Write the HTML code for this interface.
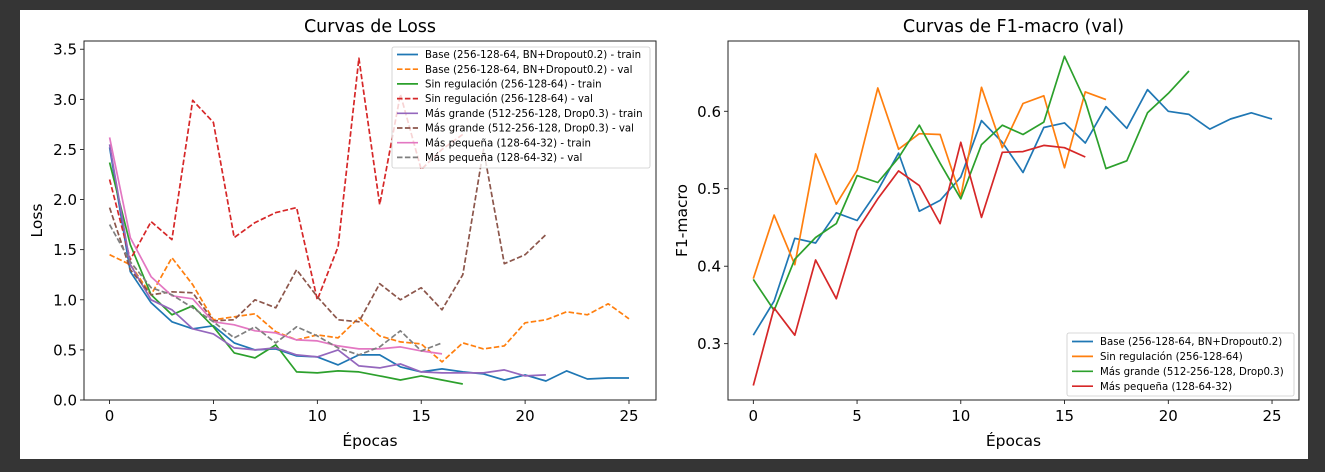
<!DOCTYPE html>
<html><head><meta charset="utf-8"><style>
html,body{margin:0;padding:0;background:#353535;width:1325px;height:472px;overflow:hidden}
svg{display:block;font-family:"DejaVu Sans","Liberation Sans",sans-serif}
</style></head><body>
<svg id="fig" width="1325" height="472" xmlns="http://www.w3.org/2000/svg">
<rect x="0" y="0" width="1325" height="472" fill="#353535"/>
<rect x="20" y="10" width="1288" height="449" fill="#fff"/>
<g id="left"></g><g id="right"></g>
</svg>
<script>
const epochs = Array.from({length:26},(_,i)=>i);
const baseTrain=[2.52,1.28,0.97,0.78,0.71,0.74,0.57,0.50,0.51,0.44,0.43,0.35,0.45,0.45,0.33,0.28,0.31,0.28,0.26,0.20,0.25,0.19,0.29,0.21,0.22,0.22];
const baseVal=[1.45,1.35,1.05,1.42,1.15,0.80,0.83,0.86,0.68,0.60,0.65,0.62,0.82,0.64,0.58,0.56,0.38,0.57,0.51,0.54,0.77,0.80,0.88,0.85,0.96,0.81];
const sinTrain=[2.37,1.55,1.05,0.85,0.94,0.73,0.47,0.42,0.55,0.28,0.27,0.29,0.28,0.24,0.20,0.24,0.20,0.16];
const sinVal=[2.20,1.40,1.78,1.60,2.99,2.77,1.62,1.77,1.87,1.92,1.00,1.53,3.41,1.95,3.05,2.30,2.50,2.65];
const grandeTrain=[2.55,1.35,1.00,0.90,0.71,0.66,0.52,0.50,0.52,0.45,0.43,0.50,0.34,0.32,0.36,0.28,0.27,0.27,0.27,0.30,0.24,0.25];
const grandeVal=[1.92,1.30,1.05,1.08,1.07,0.79,0.80,1.00,0.92,1.30,1.03,0.80,0.78,1.16,1.00,1.12,0.90,1.25,2.50,1.36,1.45,1.65];
const pequenaTrain=[2.62,1.62,1.23,1.04,1.01,0.78,0.75,0.69,0.67,0.60,0.59,0.54,0.51,0.51,0.53,0.49,0.46];
const pequenaVal=[1.75,1.38,1.12,1.05,0.92,0.78,0.62,0.73,0.57,0.73,0.64,0.52,0.45,0.53,0.69,0.49,0.57];
const f1Base=[0.311,0.355,0.436,0.430,0.469,0.459,0.498,0.546,0.471,0.485,0.515,0.588,0.560,0.521,0.579,0.585,0.559,0.606,0.578,0.628,0.600,0.596,0.577,0.590,0.598,0.590];
const f1Sin=[0.384,0.466,0.402,0.545,0.480,0.524,0.630,0.551,0.571,0.570,0.490,0.631,0.553,0.610,0.620,0.527,0.625,0.615];
const f1Grande=[0.383,0.343,0.409,0.437,0.455,0.517,0.508,0.540,0.582,0.533,0.487,0.557,0.582,0.570,0.586,0.671,0.613,0.526,0.536,0.598,0.623,0.652];
const f1Pequena=[0.246,0.346,0.311,0.408,0.358,0.446,0.487,0.523,0.504,0.455,0.560,0.463,0.547,0.548,0.556,0.553,0.541];
const xTicks=[0,5,10,15,20,25];
const lossTicks=["0.0","0.5","1.0","1.5","2.0","2.5","3.0","3.5"];
const f1Ticks=["0.3","0.4","0.5","0.6"];
const lossLabels=["Base (256-128-64, BN+Dropout0.2) - train","Base (256-128-64, BN+Dropout0.2) - val","Sin regulación (256-128-64) - train","Sin regulación (256-128-64) - val","Más grande (512-256-128, Drop0.3) - train","Más grande (512-256-128, Drop0.3) - val","Más pequeña (128-64-32) - train","Más pequeña (128-64-32) - val"];
const f1Labels=["Base (256-128-64, BN+Dropout0.2)","Sin regulación (256-128-64)","Más grande (512-256-128, Drop0.3)","Más pequeña (128-64-32)"];

const NS="http://www.w3.org/2000/svg";
function mk(parent,tag,attrs){const e=document.createElementNS(NS,tag);for(const k in attrs)e.setAttribute(k,attrs[k]);parent.appendChild(e);return e;}

function drawAxes(g,o){
  const sx=v=>o.x0+(v-o.xmin)*(o.x1-o.x0)/(o.xmax-o.xmin);
  const sy=v=>o.y1-(v-o.ymin)*(o.y1-o.y0)/(o.ymax-o.ymin);
  const t=mk(g,'text',{x:(o.x0+o.x1)/2,y:o.y0-9,'font-size':17.5,'text-anchor':'middle',fill:'#000'});
  t.textContent=o.title;
  
  
  xTicks.forEach(v=>{
    const x=sx(v);
    mk(g,'line',{x1:x,x2:x,y1:o.y1,y2:o.y1+4,stroke:'#000','stroke-width':0.8});
    const tl=mk(g,'text',{x:x,y:o.y1+21,'font-size':15,'text-anchor':'middle',fill:'#000'});
    tl.textContent=v;
    
    
  });
  o.yticks.forEach(s=>{
    const y=sy(parseFloat(s));
    mk(g,'line',{x1:o.x0-4,x2:o.x0,y1:y,y2:y,stroke:'#000','stroke-width':0.8});
    const tl=mk(g,'text',{x:o.x0-7,y:y+5.5,'font-size':15,'text-anchor':'end',fill:'#000'});
    tl.textContent=s;
    
    
  });
  const xl=mk(g,'text',{x:(o.x0+o.x1)/2,y:o.y1+46,'font-size':15.5,'text-anchor':'middle',fill:'#000'});
  xl.textContent='Épocas';
  
  
  const yx=o.ylabX, yy=(o.y0+o.y1)/2;
  const yl=mk(g,'text',{x:yx,y:yy,'font-size':15.5,'text-anchor':'middle',fill:'#000',transform:`rotate(-90 ${yx} ${yy})`});
  yl.textContent=o.ylabel;
  
  
  o.series.forEach(s=>{
    const pts=s.data.map((v,i)=>sx(epochs[i]).toFixed(1)+','+sy(v).toFixed(1)).join(' ');
    const p=mk(g,'polyline',{points:pts,fill:'none',stroke:s.color,'stroke-width':1.7,'stroke-linejoin':'round'});
    if(s.dash)p.setAttribute('stroke-dasharray','5.5,2.4');
    
    
  });
  const fr=mk(g,'rect',{x:o.x0,y:o.y0,width:o.x1-o.x0,height:o.y1-o.y0,fill:'none',stroke:'#222','stroke-width':1});
  
  
  const L=o.legend;
  const lg=mk(g,'g',{});
  
  
  mk(lg,'rect',{x:L.x,y:L.y,width:L.w,height:L.h,rx:2,fill:'rgba(255,255,255,0.8)',stroke:'#ccc','stroke-width':0.8});
  o.series.forEach((s,i)=>{
    const y=L.y+L.pad+i*L.step;
    const ln=mk(lg,'line',{x1:L.x+5,x2:L.x+26,y1:y,y2:y,stroke:s.color,'stroke-width':1.7});
    if(s.dash)ln.setAttribute('stroke-dasharray','5.5,2.4');
    const tx=mk(lg,'text',{x:L.x+33,y:y+3.6,'font-size':L.fs,fill:'#000'});
    tx.textContent=s.label;
    
    
  });
}

drawAxes(document.getElementById('left'),{key:'loss',title:'Curvas de Loss',ylabel:'Loss',ylabX:42,
  x0:84,x1:656,y0:41,y1:400,xmin:-1.23,xmax:26.3,ymin:0,ymax:3.582,yticks:lossTicks,
  legend:{x:392,y:47,w:258,h:121,pad:7.5,step:14.7,fs:10.2},
  series:[
    {data:baseTrain,color:'#1f77b4',dash:false,label:lossLabels[0],name:'base-train-line'},
    {data:baseVal,color:'#ff7f0e',dash:true,label:lossLabels[1],name:'base-val-line'},
    {data:sinTrain,color:'#2ca02c',dash:false,label:lossLabels[2],name:'sin-reg-train-line'},
    {data:sinVal,color:'#d62728',dash:true,label:lossLabels[3],name:'sin-reg-val-line'},
    {data:grandeTrain,color:'#9467bd',dash:false,label:lossLabels[4],name:'mas-grande-train-line'},
    {data:grandeVal,color:'#8c564b',dash:true,label:lossLabels[5],name:'mas-grande-val-line'},
    {data:pequenaTrain,color:'#e377c2',dash:false,label:lossLabels[6],name:'mas-pequena-train-line'},
    {data:pequenaVal,color:'#7f7f7f',dash:true,label:lossLabels[7],name:'mas-pequena-val-line'}
  ]});
drawAxes(document.getElementById('right'),{key:'f1',title:'Curvas de F1-macro (val)',ylabel:'F1-macro',ylabX:687,
  x0:728,x1:1299,y0:41,y1:400,xmin:-1.22,xmax:26.3,ymin:0.2273,ymax:0.6907,yticks:f1Ticks,
  legend:{x:1067,y:333,w:227,h:63,pad:8.5,step:14.9,fs:10.2},
  series:[
    {data:f1Base,color:'#1f77b4',dash:false,label:f1Labels[0],name:'f1-base-line'},
    {data:f1Sin,color:'#ff7f0e',dash:false,label:f1Labels[1],name:'f1-sin-reg-line'},
    {data:f1Grande,color:'#2ca02c',dash:false,label:f1Labels[2],name:'f1-mas-grande-line'},
    {data:f1Pequena,color:'#d62728',dash:false,label:f1Labels[3],name:'f1-mas-pequena-line'}
  ]});
</script>
</body></html>
